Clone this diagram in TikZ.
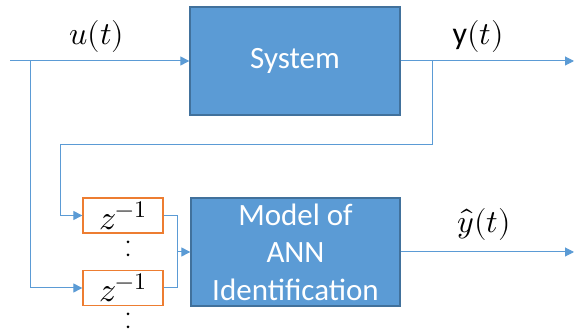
\documentclass[tikz,border=0pt]{standalone}
\usepackage{unicode-math}
\setmainfont{Carlito}
\setmathfont{Latin Modern Math}
\usetikzlibrary{arrows.meta}
\definecolor{blkfill}{HTML}{5B9BD5}
\definecolor{blkedge}{HTML}{41719C}
\definecolor{dlyedge}{HTML}{ED7D31}
\definecolor{linecol}{HTML}{5B9BD5}
\begin{document}
\begin{tikzpicture}[x=1pt, y=-1pt,
  blk/.style={draw=blkedge, fill=blkfill, line width=1.3pt, text=white,
              align=center, inner sep=0pt, font=\fontsize{31}{37.5}\selectfont},
  dly/.style={draw=dlyedge, fill=white, line width=1.3pt, inner sep=0pt,
              minimum width=80pt, minimum height=35pt, font=\fontsize{34}{36}\selectfont},
  lbl/.style={font=\fontsize{32}{34}\selectfont},
  ln/.style={draw=linecol, line width=1pt},
  arr/.style={ln, -{Triangle[length=9pt, width=9pt]}},
  pt/.style={circle, fill=black, inner sep=0pt, minimum size=3pt}]
\useasboundingbox (0,0) rectangle (574,336);
% blocks
\node[blk, minimum width=210pt, minimum height=108pt] (sys) at (295,61) {System};
\node[blk, minimum width=209pt, minimum height=108pt] (ann) at (295.5,252) {Model of\\ANN\\Identification};
\node[dly] (d1) at (123,215.5) {$z^{-1}$};
\node[dly] (d2) at (123,288) {$z^{-1}$};
% dots
\foreach \n/\y in {a/242,b/255,c/314,d/327}
  \node[pt] (dot\n) at (128,\y) {};
% labels
\node[lbl] (ulab) at (97,37) {$u(t)$};
\node[lbl] (ylab) at (478,37) {y$(t)$};
\node[lbl] (yhlab) at (484,225) {$\hat{y}(t)$};
% helper points
\coordinate (in) at (10,61);
\coordinate (split) at (30,61);
\coordinate (yout) at (574,61);
\coordinate (fb) at (432,61);
\coordinate (fbl) at (60,145);
\coordinate (mrg) at (177,252);
\coordinate (yhout) at (574,252);
% connectors
\draw[arr] (in) -- (sys.west);
\draw[arr] (split) |- (d2.west);
\draw[arr] (sys.east) -- (yout);
\draw[arr] (fb) |- (fbl) |- (d1.west);
\draw[ln] (d1.east) -| (mrg);
\draw[ln] (d2.east) -| (mrg);
\draw[arr] (mrg) -- (ann.west);
\draw[arr] (ann.east) -- (yhout);
\end{tikzpicture}
\end{document}
